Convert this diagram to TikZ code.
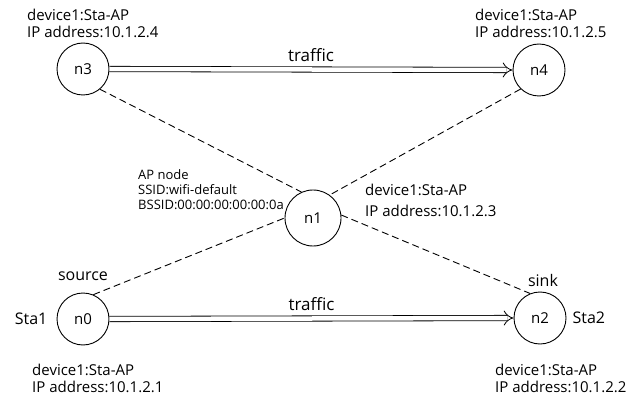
\documentclass[tikz,border=0pt]{standalone}
\usepackage{fontspec}
\setmainfont{Open Sans}
\usetikzlibrary{arrows.meta,positioning}
\tikzstyle{sta}=[circle,draw=black,line width=0.9pt,minimum size=52pt,
                inner sep=0pt,font=\fontsize{15}{17}\selectfont]
\tikzstyle{wifi}=[line width=0.9pt,dash pattern=on 7pt off 4pt]
\tikzstyle{flow}=[double,double distance=4.5pt,line width=0.8pt,-{Implies[length=7pt,width=15pt]}]
\tikzstyle{info}=[align=left,inner sep=0pt,font=\fontsize{15}{17}\selectfont]
\tikzstyle{tag}=[inner sep=0pt,font=\fontsize{16}{18}\selectfont]

\begin{document}
\begin{tikzpicture}[x=1pt,y=-1pt]
\useasboundingbox (0,0) rectangle (634,398);

% stations and access point
\node[sta] (n3) at (83,69) {n3};
\node[sta] (n4) at (539,70) {n4};
\node[sta, minimum size=56pt] (n1) at (313,218) {n1};
\node[sta] (n0) at (83,319) {n0};
\node[sta] (n2) at (540,318) {n2};

% wifi links
\draw[wifi] (n3.-50) -- (n1.114);
\draw[wifi] (n4.226) -- (n1.54);
\draw[wifi] (n0.67) -- (n1.180);
\draw[wifi] (n1.6) -- (n2.112);

% traffic
\draw[flow] (n3.east) -- (n4.west)
  node[midway, above=7pt, inner sep=0pt, font=\fontsize{17}{19}\selectfont] (t1) {traffic};
\draw[flow] (n0.east) -- (n2.west)
  node[midway, above=7pt, inner sep=0pt, font=\fontsize{17}{19}\selectfont] (t2) {traffic};

% labels
\node[info, anchor=north west] (i3) at (27,9) {device1:Sta-AP\\IP address:10.1.2.4};
\node[info, anchor=north west] (i4) at (475,9) {device1:Sta-AP\\IP address:10.1.2.5};
\node[info, anchor=north west, font=\fontsize{13}{15}\selectfont] (ap) at (138,169)
  {AP node\\SSID:wifi-default\\BSSID:00:00:00:00:00:0a};
\node[info, anchor=north west, font=\fontsize{15}{21}\selectfont] (i1) at (365,184)
  {device1:Sta-AP\\IP address:10.1.2.3};
\node[info, anchor=north west] (i0) at (32,364) {device1:Sta-AP\\IP address:10.1.2.1};
\node[info, anchor=north west] (i2) at (495,364) {device1:Sta-AP\\IP address:10.1.2.2};

\node[tag, above=12pt of n0] (src) {source};
\node[tag, above=5pt of n2, xshift=3pt] (snk) {sink};
\node[tag, left=9pt of n0] (sta1) {Sta1};
\node[tag, right=6pt of n2] (sta2) {Sta2};
\end{tikzpicture}
\end{document}
